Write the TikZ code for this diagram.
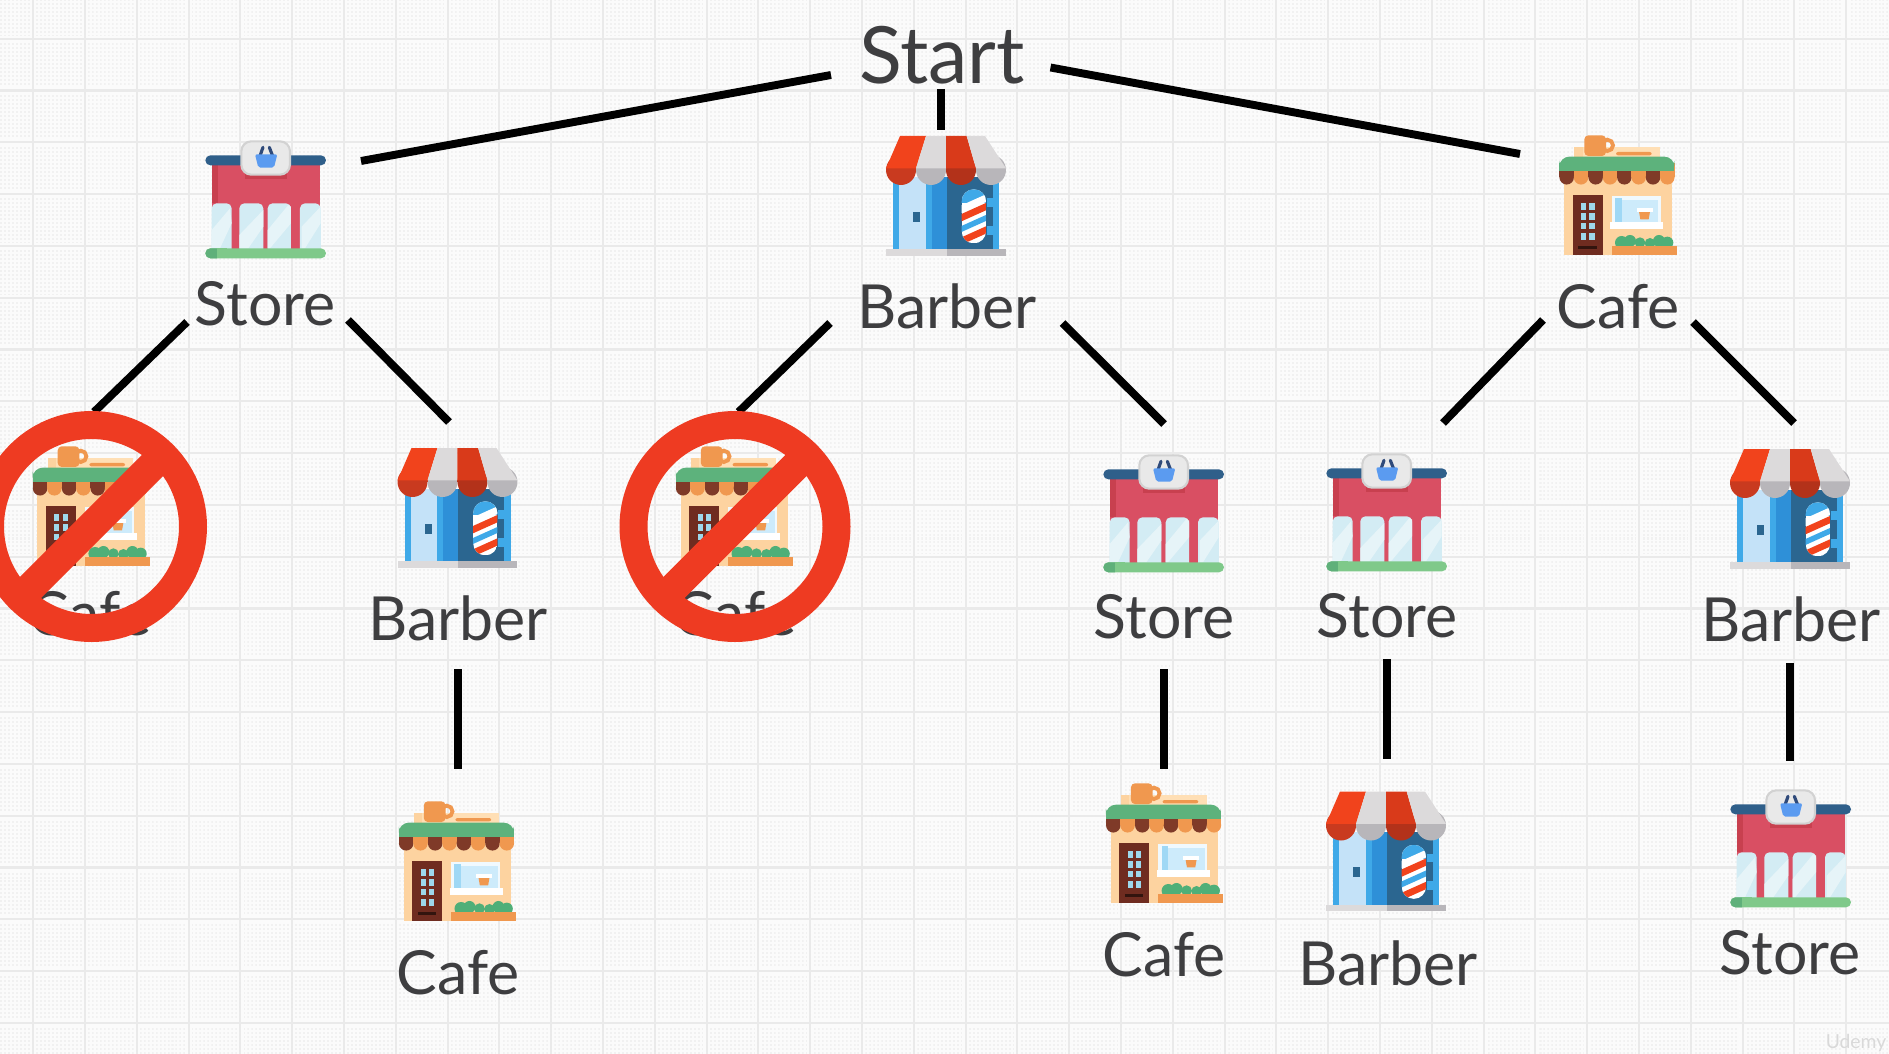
\documentclass[tikz,border=0pt]{standalone}
\usepackage{fontspec}
\usetikzlibrary{patterns}
\setmainfont{Lato}
\pgfdeclarepatternformonly{cdots}{\pgfqpoint{0pt}{0pt}}{\pgfqpoint{1.14pt}{1.14pt}}{\pgfqpoint{2.27pt}{2.27pt}}{\pgfpathrectangle{\pgfqpoint{0pt}{0pt}}{\pgfqpoint{1.14pt}{1.14pt}}\pgfusepath{fill}}
\definecolor{bgc}{HTML}{FBFBFB}
\definecolor{dotc}{HTML}{F1F1F1}
\definecolor{gridc}{HTML}{EAEAEA}
\definecolor{ink}{HTML}{3E3E40}
\definecolor{nored}{HTML}{EE3B22}
\definecolor{stred}{HTML}{D94F63}
\definecolor{stdk}{HTML}{C8404F}
\definecolor{stroof}{HTML}{2F5F8A}
\definecolor{stglass}{HTML}{D3ECF4}
\definecolor{stlight}{HTML}{E6F4F8}
\definecolor{stgrn}{HTML}{7FC98A}
\definecolor{stgrd}{HTML}{5FB07A}
\definecolor{stsign}{HTML}{E9E9E9}
\definecolor{stsigb}{HTML}{D2D2D2}
\definecolor{stbask}{HTML}{5B9BF0}
\definecolor{sthand}{HTML}{2F4A7A}
\definecolor{bbblue}{HTML}{3FA9E8}
\definecolor{bbdoor}{HTML}{C4E2F8}
\definecolor{bbmid}{HTML}{2E90D8}
\definecolor{bbdark}{HTML}{2B6690}
\definecolor{bbgl}{HTML}{DCDADB}
\definecolor{bbgd}{HTML}{B8B6BA}
\definecolor{bbr1}{HTML}{F1431C}
\definecolor{bbr2}{HTML}{D93A1A}
\definecolor{bbr3}{HTML}{C93A1F}
\definecolor{bbr4}{HTML}{B3321A}
\definecolor{cfbody}{HTML}{FDD3A0}
\definecolor{cfpanel}{HTML}{FFDFB5}
\definecolor{cforg}{HTML}{F0984F}
\definecolor{cfgrn}{HTML}{5DB27C}
\definecolor{cfbrn}{HTML}{7F3A28}
\definecolor{cfdoor}{HTML}{6F2C20}
\definecolor{cfpane}{HTML}{9ED8EC}
\definecolor{cfglass}{HTML}{CDEBFB}
\definecolor{cfblue}{HTML}{9FD8F5}
\definecolor{cfbush}{HTML}{4FAF78}
\tikzset{
  lab/.style={font=\fontsize{34.6}{36}\selectfont,text=ink,inner sep=0pt,anchor=center},
  labstart/.style={font=\fontsize{45}{47}\selectfont,text=ink,inner sep=0pt,anchor=center},
  link/.style={draw=black,line width=4.5pt},
  storeicon/.pic={
    \fill[stred] (65,130) rectangle (390,390);
    \fill[stdk] (65,130) rectangle (85,250);
    \fill[stdk] (165,150) rectangle (290,177);
    \fill[stroof,rounded corners=.1cm] (46,106) rectangle (408,136);
    \foreach \a/\b in {65/125,148/220,233/303,330/392}{
      \fill[stglass,rounded corners=.1cm] (\a,250) rectangle (\b,405);
    }
    \fill[stglass] (65,270) rectangle (90,405);
    \fill[stglass] (370,270) rectangle (392,405);
    \fill[stlight] (148,345) -- (220,270) -- (220,320) -- (175,385) -- (148,385) -- cycle;
    \fill[stlight] (233,330) -- (295,255) -- (303,260) -- (303,310) -- (240,385) -- (233,385) -- cycle;
    \fill[stlight] (65,330) -- (120,265) -- (125,310) -- (90,385) -- (65,385) -- cycle;
    \fill[stlight] (335,320) -- (392,260) -- (392,310) -- (345,385) -- (335,385) -- cycle;
    \fill[stgrn,rounded corners=.1cm] (46,385) rectangle (408,415);
    \fill[stgrd,rounded corners=.1cm] (46,385) rectangle (95,415);
    \fill[stgrn] (80,385) rectangle (110,415);
    \fill[stsign,draw=stsigb,line width=1.2pt,rounded corners=.2cm] (154,64) rectangle (300,164);
    \draw[sthand,line width=1.8pt,line cap=round] (210,108) -- (219,82);
    \draw[sthand,line width=1.8pt,line cap=round] (248,108) -- (238,82);
    \fill[stbask,rounded corners=.04cm] (195,103) -- (262,103) -- (252,143) -- (205,143) -- cycle;
  },
  barbericon/.pic={
    \fill[bbblue] (70,170) rectangle (388,388);
    \fill[bbdoor] (88,170) rectangle (167,388);
    \fill[bbmid] (185,170) rectangle (230,388);
    \fill[bbdark] (230,170) rectangle (368,388);
    \fill[bbdark] (130,276) rectangle (150,305);
    \fill[bbblue] (350,235) rectangle (368,345);
    \fill[bbdark] (350,260) rectangle (368,318);
    \fill[bbgl] (48,388) rectangle (230,408);
    \fill[bbgd] (230,388) rectangle (408,408);
    \fill[bbr3] (93,150) circle[radius=45];
    \fill[bbgd] (183,150) circle[radius=45];
    \fill[bbr4] (273,150) circle[radius=45];
    \fill[bbgd] (363,150) circle[radius=45];
    \fill[bbr3] (48,145) rectangle (138,150);
    \fill[bbgd] (138,145) rectangle (228,150);
    \fill[bbr4] (228,145) rectangle (318,150);
    \fill[bbgd] (318,145) rectangle (408,150);
    \fill[bbr1] (90,48) -- (168,48) -- (138,145) -- (48,145) -- cycle;
    \fill[bbgl] (168,48) -- (228,48) -- (228,145) -- (138,145) -- cycle;
    \fill[bbr2] (228,48) -- (290,48) -- (318,145) -- (228,145) -- cycle;
    \fill[bbgl] (290,48) -- (345,48) -- (408,145) -- (318,145) -- cycle;
    \begin{scope}
      \clip[rounded corners=.24cm] (275,208) rectangle (348,370);
      \fill[white] (275,208) rectangle (348,370);
      \fill[bbblue] (270,208) rectangle (350,250);
      \fill[white] (270,258) -- (350,222) -- (350,245) -- (270,281) -- cycle;
      \fill[bbr1] (270,284) -- (350,248) -- (350,270) -- (270,306) -- cycle;
      \fill[bbblue] (270,320) -- (350,284) -- (350,302) -- (270,338) -- cycle;
      \fill[bbr1] (270,354) -- (350,318) -- (350,340) -- (270,376) -- cycle;
    \end{scope}
  },
  cafeicon/.pic={
    \fill[cfbody] (42,170) rectangle (365,405);
    \fill[cfpanel] (73,80) rectangle (330,130);
    \fill[cfbody] (73,80) rectangle (98,130);
    \fill[cforg,rounded corners=.04cm] (198,96) rectangle (305,106);
    \draw[cforg,line width=2.2pt] (172,76) circle[radius=17];
    \fill[cforg,rounded corners=.08cm] (103,46) rectangle (168,108);
    \foreach \c/\k in {50/cfbrn,93/cforg,137/cfbrn,180/cforg,223/cfbrn,266/cforg,309/cfbrn,352/cforg}{
      \fill[\k] (\c-21.7,130) rectangle (\c+21.7,172);
      \fill[\k] (\c,172) circle[radius=21.7];
    }
    \fill[cfgrn,rounded corners=.2cm] (28,152) -- (28,110) -- (373,110) -- (373,152) -- cycle;
    \fill[cfgrn] (28,130) rectangle (373,152);
    \fill[cfdoor] (68,226) rectangle (158,405);
    \foreach \py in {250,279,308,340}{
      \fill[cfpane] (93,\py) rectangle (108,\py+20);
      \fill[cfpane] (118,\py) rectangle (134,\py+20);
    }
    \fill[black!55!cfdoor] (85,378) rectangle (140,386);
    \fill[white!70!cfglass] (185,228) rectangle (332,310);
    \fill[cfglass] (200,240) rectangle (325,305);
    \fill[cfblue] (195,235) rectangle (215,305);
    \fill[white] (180,305) rectangle (340,328);
    \fill[cforg] (267,275) -- (300,275) -- (296,298) -- (271,298) -- cycle;
    \fill[white] (260,265) rectangle (308,275);
    \fill[cfbush] (215,368) circle[radius=20];
    \fill[cfbush] (240,363) circle[radius=18];
    \fill[cfbush] (270,368) circle[radius=16];
    \fill[cfbush] (300,370) circle[radius=16];
    \fill[cfbush] (327,363) circle[radius=18];
    \fill[cfbush] (352,368) circle[radius=18];
    \fill[cforg] (185,378) rectangle (380,405);
  },
  nosign/.pic={
    \draw[nored,line width=.56cm] (0,0) circle[radius=101.5];
    \draw[nored,line width=.6cm] (-75,75) -- (75,-75);
  }
}
\begin{document}
\begin{tikzpicture}[x=0.02cm,y=-0.02cm]
\useasboundingbox (0,0) rectangle (1889,1054);
\clip (0,0) rectangle (1889,1054);
\fill[bgc] (0,0) rectangle (1889,1054);
\fill[pattern=cdots,pattern color=dotc] (0,0) rectangle (1889,1054);
% grid
\foreach \i in {0,...,36}{
  \draw[bgc,line width=3.6pt] ({33.2+51.8*\i},0) -- ({33.2+51.8*\i},1054);
}
\foreach \i in {-1,...,20}{
  \draw[bgc,line width=3.6pt] (0,{90.5+51.8*\i}) -- (1889,{90.5+51.8*\i});
}
\foreach \i in {0,...,36}{
  \draw[gridc,line width=1.2pt] ({33.2+51.8*\i},0) -- ({33.2+51.8*\i},1054);
}
\foreach \i in {-1,...,20}{
  \draw[gridc,line width=1.2pt] (0,{90.5+51.8*\i}) -- (1889,{90.5+51.8*\i});
}
% icons
\pic[scale=.3333] at (190,120) {storeicon};
\pic[scale=.3333] at (1088,434) {storeicon};
\pic[scale=.3333] at (1311,433) {storeicon};
\pic[scale=.3333] at (1715,769) {storeicon};
\pic[scale=.3333] at (870,120) {barbericon};
\pic[scale=.3333] at (381.5,432) {barbericon};
\pic[scale=.3333] at (1714,433) {barbericon};
\pic[scale=.3333] at (1310,775.5) {barbericon};
\pic[scale=.3333] at (1550,120) {cafeicon};
\pic[scale=.3333] at (23.4,431) {cafeicon};
\pic[scale=.3333] at (666.5,431) {cafeicon};
\pic[scale=.3333] at (389.5,786) {cafeicon};
\pic[scale=.3333] at (1096.6,768) {cafeicon};
% labels
\node[labstart] (S) at (942,55) {Start};
\node[lab] (A) at (265,304) {Store};
\node[lab] (B) at (947,306) {Barber};
\node[lab] (C) at (1618,307) {Cafe};
\node[lab] (A1) at (90,614) {Cafe};
\node[lab] (A2) at (458,618) {Barber};
\node[lab] (B1) at (735,614) {Cafe};
\node[lab] (B2) at (1164,617) {Store};
\node[lab] (C1) at (1387,616) {Store};
\node[lab] (C2) at (1791,619) {Barber};
\node[lab] (A2a) at (458,973) {Cafe};
\node[lab] (B2a) at (1164,955) {Cafe};
\node[lab] (C1a) at (1388,963) {Barber};
\node[lab] (C2a) at (1790,953) {Store};
% connectors
\draw[link] ([shift={(-111,20)}]S.center) -- ([shift={(96,-143)}]A.center);
\draw[link] ([shift={(-1,34)}]S.center) -- ([shift={(-6,-176)}]B.center);
\draw[link] ([shift={(108.5,12.5)}]S.center) -- ([shift={(-98,-153)}]C.center);
\draw[link] ([shift={(-78,18)}]A.center) -- ([shift={(4,-202)}]A1.center);
\draw[link] ([shift={(83,16)}]A.center) -- ([shift={(-9,-196)}]A2.center);
\draw[link] ([shift={(-117,17)}]B.center) -- ([shift={(3.5,-202)}]B1.center);
\draw[link] ([shift={(115.5,17)}]B.center) -- ([shift={(0,-193)}]B2.center);
\draw[link] ([shift={(-75,13)}]C.center) -- ([shift={(56,-193)}]C1.center);
\draw[link] ([shift={(75,15)}]C.center) -- ([shift={(3,-196)}]C2.center);
\draw[link] ([shift={(0,51)}]A2.center) -- ([shift={(0,-204)}]A2a.center);
\draw[link] ([shift={(0,52)}]B2.center) -- ([shift={(0,-186)}]B2a.center);
\draw[link] ([shift={(0,43)}]C1.center) -- ([shift={(-1,-204)}]C1a.center);
\draw[link] ([shift={(-1,44)}]C2.center) -- ([shift={(0,-192)}]C2a.center);
% prohibition signs
\pic at (91.5,526.5) {nosign};
\pic at (735,526.5) {nosign};
% watermark
\node[font=\fontsize{11}{11}\selectfont,text=black!15,inner sep=0pt] (wm) at (1856,1043) {Udemy};
\end{tikzpicture}
\end{document}
